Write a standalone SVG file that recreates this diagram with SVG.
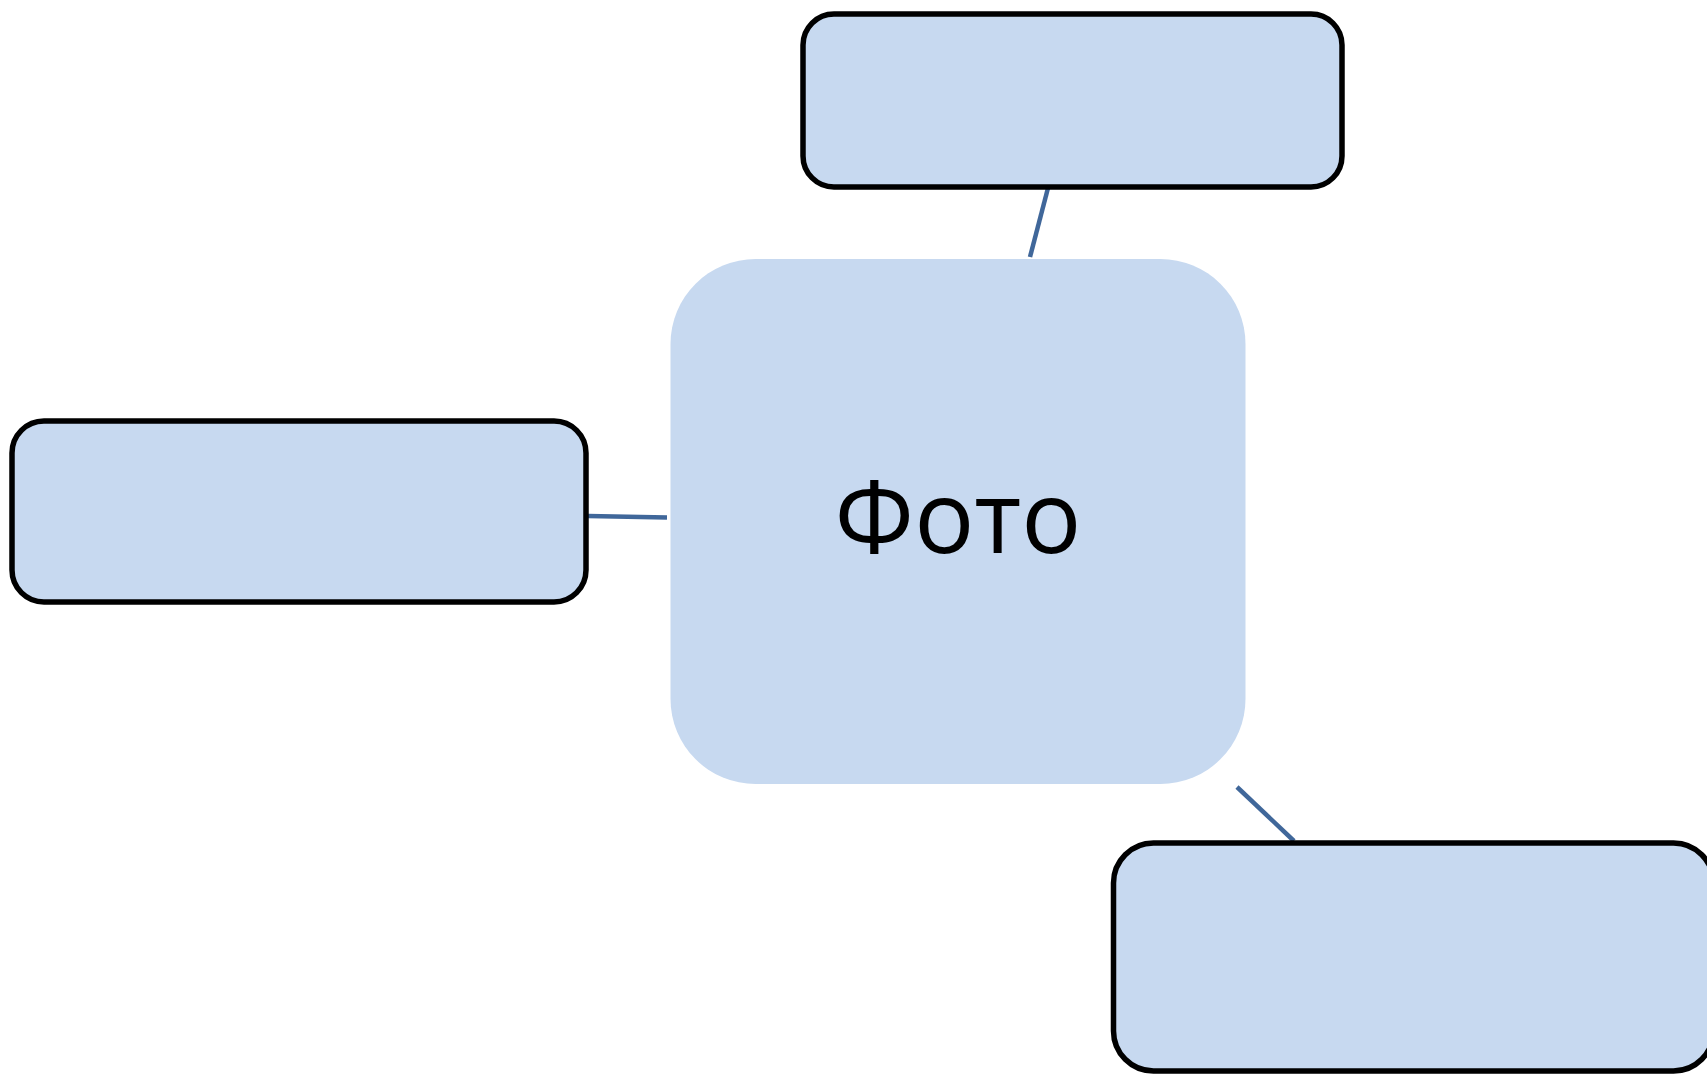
<svg xmlns="http://www.w3.org/2000/svg" width="1707" height="1074" viewBox="0 0 1707 1074">
  <style>
    .box { fill: #c7d9f0; stroke: #000000; stroke-width: 5.5; }
    .hub { fill: #c7d9f0; }
    .link { stroke: #40679a; stroke-width: 4.5; fill: none; }
    .label { font-family: "Open Sans", "Noto Sans", sans-serif; font-size: 100px; fill: #000000; }
  </style>
  <rect width="1707" height="1074" fill="#ffffff"/>
  <g id="connectors">
    <line class="link" x1="1048" y1="188" x2="1030" y2="257"/>
    <line class="link" x1="588" y1="516" x2="667" y2="517.5"/>
    <line class="link" x1="1237" y1="787" x2="1294" y2="841"/>
  </g>
  <g id="node-top">
    <rect class="box" x="803" y="14" width="539" height="173" rx="31" ry="31"/>
  </g>
  <g id="node-left">
    <rect class="box" x="12" y="421" width="574" height="181" rx="32" ry="32"/>
  </g>
  <g id="node-bottom-right">
    <rect class="box" x="1113.5" y="843" width="600" height="228" rx="40" ry="40"/>
  </g>
  <g id="node-center">
    <rect class="hub" x="670.5" y="259" width="575" height="525" rx="85" ry="85"/>
    <text class="label" x="958" y="553" text-anchor="middle">Фото</text>
  </g>
</svg>
